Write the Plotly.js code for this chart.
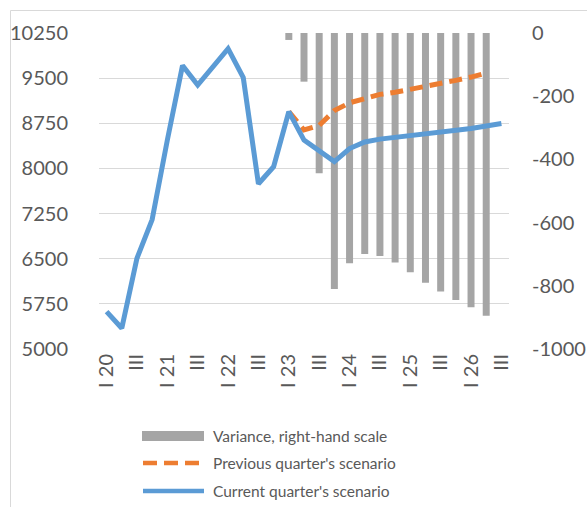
<!DOCTYPE html>
<html>
<head>
<meta charset="utf-8">
<script src="https://cdn.plot.ly/plotly-3.0.1.min.js"></script>
<style>
html,body{margin:0;padding:0;background:#fff;}
#chart{width:587px;height:507px;}
</style>
</head>
<body>
<div id="chart"></div>
<script>
// Quarters 2020 Q1 .. 2026 Q3
const quarters = ["2020Q1","2020Q2","2020Q3","2020Q4","2021Q1","2021Q2","2021Q3","2021Q4",
  "2022Q1","2022Q2","2022Q3","2022Q4","2023Q1","2023Q2","2023Q3","2023Q4",
  "2024Q1","2024Q2","2024Q3","2024Q4","2025Q1","2025Q2","2025Q3","2025Q4",
  "2026Q1","2026Q2","2026Q3"];
const tickQuarters = ["2020Q1","2020Q3","2021Q1","2021Q3","2022Q1","2022Q3","2023Q1","2023Q3",
  "2024Q1","2024Q3","2025Q1","2025Q3","2026Q1","2026Q3"];
const tickLabels = ["I 20","III","I 21","III","I 22","III","I 23","III","I 24","III","I 25","III","I 26","III"];

// right-hand scale ticks (hyphen minus as in the original)
const rightTickVals = [0, -200, -400, -600, -800, -1000];
const rightTickText = ["0", "-200", "-400", "-600", "-800", "-1000"];

const currentScenario = [5621,5345,6507,7150,8470,9710,9386,9700,9990,9510,7745,8029,8945,
  8470,8279,8113,8330,8440,8487,8517,8540,8567,8592,8620,8662,8705,8745];

const previousQuarters = quarters.slice(12, 26);
const previousScenario = [8945,8639,8715,8960,9090,9170,9230,9265,9310,9364,9414,9463,9518,9585];

const varianceQuarters = quarters.slice(12, 26);
const variance = [-22,-154,-444,-810,-729,-699,-706,-726,-757,-790,-818,-845,-868,-895];

const FONT = "Lato, 'Open Sans', sans-serif";
const GREY_TXT = "#595959";

// pixel helpers for legend/border placement (plot area 99..509 x 33..349)
const PL = 99, PR = 509, PT = 33, PB = 349;
const px = v => (v - PL) / (PR - PL);
const py = v => (PB - v) / (PB - PT);

const traces = [
  {
    type: "bar", name: "Variance, right-hand scale",
    x: varianceQuarters, y: variance, yaxis: "y",
    marker: {color: "#a5a5a5"}, width: 0.46, showlegend: false, hoverinfo: "x+y"
  },
  {
    type: "scatter", mode: "lines", name: "Previous quarter's scenario",
    x: previousQuarters, y: previousScenario, yaxis: "y2",
    line: {color: "#ed7d31", width: 5, dash: "13px,7px"}, showlegend: false
  },
  {
    type: "scatter", mode: "lines", name: "Current quarter's scenario",
    x: quarters, y: currentScenario, yaxis: "y2",
    line: {color: "#5b9bd5", width: 5}, showlegend: false
  }
];

const legendRows = [
  {text: "Variance, right-hand scale", y: 436},
  {text: "Previous quarter's scenario", y: 463},
  {text: "Current quarter's scenario", y: 491}
];

const shapes = [
  // chart frame
  {type: "rect", xref: "paper", yref: "paper", x0: px(10.5), x1: px(640), y0: py(560), y1: py(10.5),
   line: {color: "#d9d9d9", width: 1}, fillcolor: "rgba(0,0,0,0)", layer: "below"},
  // legend symbols
  {type: "rect", xref: "paper", yref: "paper", x0: px(142), x1: px(204), y0: py(441), y1: py(431),
   line: {width: 0}, fillcolor: "#a5a5a5"},
  {type: "line", xref: "paper", yref: "paper", x0: px(143), x1: px(203), y0: py(463), y1: py(463),
   line: {color: "#ed7d31", width: 4.5, dash: "14px,7px"}},
  {type: "line", xref: "paper", yref: "paper", x0: px(143), x1: px(204), y0: py(491), y1: py(491),
   line: {color: "#5b9bd5", width: 4.5}}
];

const annotations = legendRows.map(r => ({
  xref: "paper", yref: "paper", x: px(211), y: py(r.y), xanchor: "left", yanchor: "middle",
  text: r.text, showarrow: false, font: {family: FONT, size: 15.5, color: GREY_TXT}
}));

const layout = {
  width: 587, height: 507,
  margin: {l: PL, r: 587 - PR, t: PT, b: 507 - PB, pad: 0},
  paper_bgcolor: "#ffffff", plot_bgcolor: "#ffffff",
  font: {family: FONT, size: 20, color: GREY_TXT},
  showlegend: false,
  bargap: 0.5,
  xaxis: {
    type: "category", categoryorder: "array", categoryarray: quarters,
    range: [-0.5, quarters.length - 0.5],
    tickmode: "array", tickvals: tickQuarters, ticktext: tickLabels,
    tickangle: -90, tickfont: {family: FONT, size: 20, color: GREY_TXT},
    showgrid: false, zeroline: false, showline: false, ticks: ""
  },
  yaxis: {
    side: "right", range: [-1000, 0], tickmode: "array",
    tickvals: rightTickVals, ticktext: rightTickText,
    showgrid: false, zeroline: false, showline: false, ticks: "",
    ticklabelstandoff: 22,
    tickfont: {family: FONT, size: 20, color: GREY_TXT}
  },
  yaxis2: {
    overlaying: "y", side: "left", range: [5000, 10250], tickmode: "linear", tick0: 5000, dtick: 750,
    tickformat: "d",
    showgrid: true, gridcolor: "#d9d9d9", gridwidth: 1, zeroline: false, showline: false, ticks: "",
    ticklabelstandoff: 30,
    tickfont: {family: FONT, size: 20, color: GREY_TXT}
  },
  shapes: shapes,
  annotations: annotations
};

Plotly.newPlot("chart", traces, layout, {staticPlot: true, displayModeBar: false});
</script>
</body>
</html>
